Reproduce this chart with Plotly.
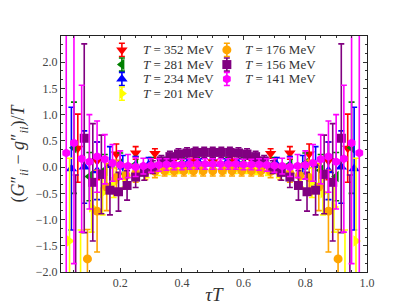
import plotly.graph_objects as go

# Temperatures (MeV) and temporal extents
labels = ["352", "281", "234", "201", "176", "156", "141"]
nt_values = [16, 20, 24, 28, 32, 36, 40]
colors = ["red", "green", "blue", "yellow", "orange", "purple", "magenta"]
symbols = ["triangle-down", "triangle-left", "triangle-up", "triangle-right",
           "circle", "square", "hexagon"]
sizes = [10, 10, 10, 10, 9, 9, 9]

val_352 = [0.36, 0.12, 0.25, 0.27, 0.26, 0.15, 0.12, 0.10, 0.12, 0.15, 0.26, 0.27, 0.25, 0.12, 0.36]
err_352 = [0.65, 0.36, 0.19, 0.12, 0.09, 0.08, 0.08, 0.08, 0.08, 0.08, 0.09, 0.12, 0.19, 0.36, 0.65]

val_281 = [0.37, -0.18, -0.06, 0.07, 0.05, 0.06, 0.07, 0.08, 0.08, 0.08, 0.08, 0.08, 0.07, 0.06, 0.05, 0.07, -0.06, -0.18, 0.37]
err_281 = [0.87, 0.46, 0.30, 0.20, 0.15, 0.12, 0.10, 0.10, 0.10, 0.10, 0.10, 0.10, 0.10, 0.12, 0.15, 0.20, 0.30, 0.46, 0.87]

val_234 = [-0.03, 0.00, -0.07, 0.03, 0.00, 0.03, 0.04, 0.05, 0.05, 0.06, 0.06, 0.06, 0.06, 0.06, 0.05, 0.05, 0.04, 0.03, 0.00, 0.03, -0.07, 0.00, -0.03]
err_234 = [1.17, 0.69, 0.55, 0.36, 0.22, 0.17, 0.14, 0.12, 0.10, 0.10, 0.10, 0.10, 0.10, 0.10, 0.10, 0.12, 0.14, 0.17, 0.22, 0.36, 0.55, 0.69, 1.17]

val_201 = [-1.41, -2.60, -0.76, -0.49, -0.30, -0.18, -0.11, -0.08, -0.06, -0.05, -0.04, -0.04, -0.04, -0.04,
           -0.04, -0.04, -0.04, -0.05, -0.06, -0.08, -0.11, -0.18, -0.30, -0.49, -0.76, -2.60, -1.41]
err_201 = [1.58, 1.40, 0.48, 0.42, 0.28, 0.20, 0.15, 0.12, 0.10, 0.09, 0.08, 0.08, 0.08, 0.08,
           0.08, 0.08, 0.08, 0.09, 0.10, 0.12, 0.15, 0.20, 0.28, 0.42, 0.48, 1.40, 1.58]

val_176 = [-4.50, -3.20, -1.75, -0.84, -0.38, -0.20, -0.16, -0.12, -0.10, -0.08, -0.07, -0.07, -0.07, -0.07, -0.07, -0.07,
           -0.07, -0.07, -0.07, -0.07, -0.07, -0.08, -0.10, -0.12, -0.16, -0.20, -0.38, -0.84, -1.75, -3.20, -4.50]
err_176 = [1.50, 1.00, 0.56, 0.78, 0.45, 0.33, 0.22, 0.17, 0.14, 0.12, 0.10, 0.10, 0.10, 0.10, 0.10, 0.10,
           0.10, 0.10, 0.10, 0.10, 0.10, 0.12, 0.14, 0.17, 0.22, 0.33, 0.45, 0.78, 0.56, 1.00, 1.50]

val_156 = [-4.50, -2.40, 0.55, -0.29, -0.14, -0.44, -0.47, -0.35, -0.19, -0.10, 0.00, 0.12, 0.20, 0.25, 0.27, 0.28, 0.28, 0.28,
           0.28, 0.28, 0.27, 0.25, 0.20, 0.12, 0.00, -0.10, -0.19, -0.35, -0.47, -0.44, -0.14, -0.29, 0.55, -2.40, -4.50]
err_156 = [1.50, 2.25, 1.80, 1.12, 0.75, 0.47, 0.37, 0.28, 0.20, 0.15, 0.12, 0.10, 0.10, 0.10, 0.10, 0.10, 0.10, 0.10,
           0.10, 0.10, 0.10, 0.10, 0.10, 0.10, 0.12, 0.15, 0.20, 0.28, 0.37, 0.47, 0.75, 1.12, 1.80, 2.25, 1.50]

val_141 = [0.27, 0.46, 0.16, 0.10, 0.20, 0.15, 0.08, 0.04, 0.02, 0.00, 0.02, 0.03, 0.04, 0.05, 0.05, 0.05, 0.06, 0.06, 0.06, 0.06,
           0.06, 0.06, 0.06, 0.05, 0.05, 0.05, 0.04, 0.03, 0.02, 0.00, 0.02, 0.04, 0.08, 0.15, 0.20, 0.10, 0.16, 0.46, 0.27]
err_141 = [2.60, 2.30, 1.40, 0.90, 0.68, 0.47, 0.35, 0.27, 0.22, 0.18, 0.15, 0.13, 0.12, 0.11, 0.10, 0.10, 0.10, 0.10, 0.10, 0.10,
           0.10, 0.10, 0.10, 0.10, 0.10, 0.11, 0.12, 0.13, 0.15, 0.18, 0.22, 0.27, 0.35, 0.47, 0.68, 0.90, 1.40, 2.30, 2.60]

values = [val_352, val_281, val_234, val_201, val_176, val_156, val_141]
errors = [err_352, err_281, err_234, err_201, err_176, err_156, err_141]

x_ticks = [0.2, 0.4, 0.6, 0.8, 1.0]
y_ticks = [-2.0, -1.5, -1.0, -0.5, 0.0, 0.5, 1.0, 1.5, 2.0]

# Legend layout (fractions of the plot area): column of each entry and its row
legend_col = [0, 0, 0, 0, 1, 1, 1]
legend_row = [0, 1, 2, 3, 0, 1, 2]
legend_marker_x = [0.199, 0.542]
legend_text_x = [0.262, 0.596]
legend_row_y = [0.941, 0.879, 0.818, 0.756]

FONT = "Liberation Serif"

fig = go.Figure()
for k in range(len(labels)):
    nt = nt_values[k]
    tau = [i / nt for i in range(1, nt)]
    fig.add_trace(go.Scatter(
        x=tau, y=values[k], mode="markers",
        name="<i>T</i> = " + labels[k] + " MeV", showlegend=False,
        marker=dict(symbol=symbols[k], color=colors[k], size=sizes[k], line=dict(width=0)),
        error_y=dict(type="data", array=errors[k], visible=True, color=colors[k],
                     thickness=1.6, width=3),
    ))

# hand-built legend on an overlay axis spanning the plot area
for k in range(len(labels)):
    c = legend_col[k]
    r = legend_row[k]
    fig.add_trace(go.Scatter(
        x=[legend_marker_x[c]], y=[legend_row_y[r]], mode="markers",
        xaxis="x2", yaxis="y2", showlegend=False, hoverinfo="skip", cliponaxis=False,
        marker=dict(symbol=symbols[k], color=colors[k], size=sizes[k], line=dict(width=0)),
        error_y=dict(type="constant", value=0.028, visible=True, color=colors[k],
                     thickness=1.6, width=3),
    ))
    fig.add_annotation(
        x=legend_text_x[c], y=legend_row_y[r], xref="x2", yref="y2",
        text="<i>T</i> = " + labels[k] + " MeV", showarrow=False,
        xanchor="left", yanchor="middle",
        font=dict(family=FONT, size=13, color="#333"),
    )

fig.update_layout(
    width=407, height=305,
    margin=dict(l=61, r=40, t=36, b=33, autoexpand=False),
    paper_bgcolor="white", plot_bgcolor="white",
    font=dict(family=FONT, size=11, color="#333"),
    showlegend=False,
    xaxis=dict(range=[0.008, 1.0], tickvals=x_ticks, ticktext=[f"{v:.1f}" for v in x_ticks],
               automargin=False,
               ticks="inside", ticklen=4, tickcolor="#333", mirror="allticks",
               showline=True, linecolor="#222", linewidth=1, showgrid=False, zeroline=False,
               minor=dict(dtick=0.05, tick0=0, ticks="inside", ticklen=2, tickcolor="#333"),
               tickfont=dict(family=FONT, size=12, color="#444"),
               title=dict(text="<i>τT</i>", font=dict(family=FONT, size=19, color="#333"), standoff=0)),
    yaxis=dict(range=[-2.0, 2.5], tickvals=y_ticks, ticktext=[f"{v:.1f}".replace("-", "−") for v in y_ticks],
               automargin=False,
               ticks="inside", ticklen=4, tickcolor="#333", mirror="allticks",
               showline=True, linecolor="#222", linewidth=1, showgrid=False, zeroline=False,
               minor=dict(dtick=0.5 / 3, tick0=0, ticks="inside", ticklen=2, tickcolor="#333"),
               tickfont=dict(family=FONT, size=12, color="#444"),
               title=dict(text="(<i>G</i>″<sub><i>ii</i></sub> − <i>g</i>″<sub><i>ii</i></sub>)/<i>T</i>",
                          font=dict(family=FONT, size=18, color="#333"), standoff=6)),
    xaxis2=dict(overlaying="x", range=[0, 1], visible=False, fixedrange=True, automargin=False),
    yaxis2=dict(overlaying="y", range=[0, 1], visible=False, fixedrange=True, automargin=False),
)

fig.write_html("out.html", config={"displayModeBar": False},
               post_script="document.body.style.margin='0';")
